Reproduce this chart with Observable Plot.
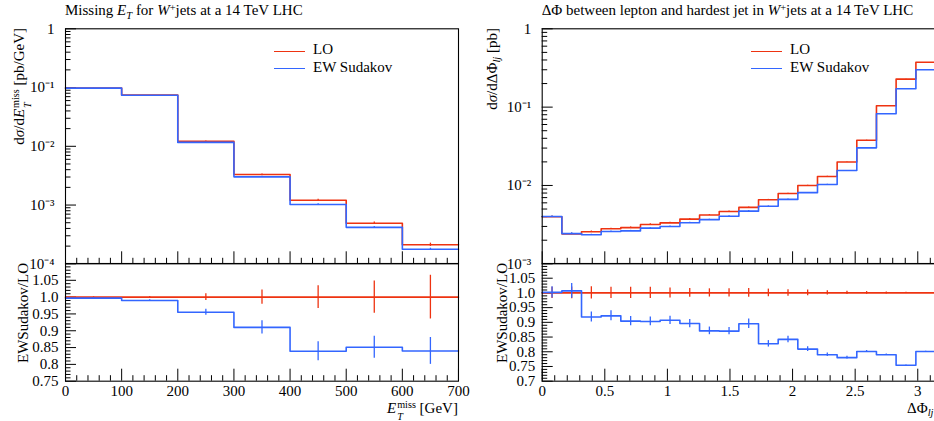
<!DOCTYPE html>
<html><head><meta charset="utf-8">
<script src="https://cdn.jsdelivr.net/npm/d3@7"></script>
<script src="https://cdn.jsdelivr.net/npm/@observablehq/plot@0.6"></script>
<style>
html,body{margin:0;padding:0;background:#fff;overflow:hidden;}
#root{position:relative;width:934px;height:421px;font-family:"Liberation Serif",serif;color:#000;overflow:hidden;}
#root svg{position:absolute;overflow:visible;}
.t{position:absolute;white-space:nowrap;font-size:15px;line-height:15px;}
.rot{position:absolute;white-space:nowrap;font-size:15px;line-height:15px;transform-origin:0 0;transform:rotate(-90deg) translateX(-100%);}
.sub{font-size:70%;position:relative;top:0.3em;}
.sup{font-size:70%;position:relative;top:-0.45em;}
.ss{display:inline-block;position:relative;font-size:68%;line-height:1;margin-left:1px;}
.ss .hi{display:block;position:relative;top:-0.45em;}
.ss .lo{display:block;position:absolute;left:0;top:0.92em;line-height:0.6;}
.leg{position:absolute;height:0;border-top:1.6px solid;width:31px;}
</style></head><body><div id="root"></div>
<script>
const FONT = '"Liberation Serif", serif';
const RED = "#ee3311", BLUE = "#3366ff";

// ---------- Missing E_T panel ----------
const etEdges = [0, 100, 200, 300, 400, 500, 600, 700];
const etLO    = [0.098, 0.0745, 0.0122, 0.00332, 0.00121, 0.00049, 0.000211];
const etEW    = [0.0977, 0.0738, 0.01165, 0.00302, 0.00102, 0.000417, 0.000177];
const etRatio = [0.997, 0.99, 0.955, 0.91, 0.839, 0.851, 0.84];
const etLOErr = [0.001, 0.002, 0.01, 0.021, 0.034, 0.048, 0.065];
const etEWErr = [0.001, 0.002, 0.009, 0.02, 0.028, 0.033, 0.04];
const etXTicks = [0, 100, 200, 300, 400, 500, 600, 700];

// ---------- Delta Phi panel ----------
const phiEdges = [0, 0.157, 0.314, 0.471, 0.628, 0.785, 0.942, 1.1, 1.257, 1.414, 1.571,
                  1.728, 1.885, 2.042, 2.199, 2.356, 2.513, 2.67, 2.827, 2.985, 3.1416];
const phiLO    = [0.00399, 0.00241, 0.00256, 0.0028, 0.0029, 0.00318, 0.00333, 0.00372, 0.0042, 0.00465,
                  0.00525, 0.00656, 0.00789, 0.0100, 0.0130, 0.0199, 0.0377, 0.104, 0.228, 0.374];
const phiEW    = [0.00401, 0.00243, 0.00235, 0.00258, 0.00263, 0.00285, 0.00299, 0.00334, 0.00366, 0.00405,
                  0.0047, 0.00543, 0.00664, 0.00809, 0.01027, 0.0155, 0.0302, 0.0822, 0.172, 0.3];
const phiRatio = [1.002, 1.007, 0.918, 0.922, 0.904, 0.903, 0.907, 0.896, 0.871, 0.87,
                  0.895, 0.827, 0.842, 0.809, 0.79, 0.78, 0.801, 0.79, 0.754, 0.801];
const phiLOErr = [0.019, 0.02, 0.021, 0.019, 0.019, 0.019, 0.017, 0.015, 0.014, 0.014,
                  0.015, 0.013, 0.011, 0.0097, 0.007, 0.0057, 0.0046, 0.0034, 0.0023, 0.001];
const phiEWErr = [0.019, 0.025, 0.017, 0.017, 0.016, 0.015, 0.014, 0.014, 0.013, 0.0125,
                  0.016, 0.011, 0.011, 0.008, 0.006, 0.0045, 0.0034, 0.0023, 0.0012, 0.001];
const phiXTicks = [0, 0.5, 1, 1.5, 2, 2.5, 3];

// ---------- helpers ----------
function steps(edges, vals) {
  const pts = vals.map((v, i) => ({x: edges[i], y: v}));
  pts.push({x: edges[edges.length - 1], y: vals[vals.length - 1]});
  return pts;
}
function bars(edges, vals, errs, rel) {
  return vals.map((v, i) => ({x: (edges[i] + edges[i + 1]) / 2,
    lo: rel ? v * (1 - errs[i]) : v - errs[i], hi: rel ? v * (1 + errs[i]) : v + errs[i]}));
}
function logTicks(lo, hi) {
  const major = [], minor = [];
  for (let e = lo; e <= hi; e++) {
    major.push(Math.pow(10, e));
    if (e < hi) for (let m = 2; m <= 9; m++) minor.push(m * Math.pow(10, e));
  }
  return {major, minor};
}
const supMap = {"-": "⁻", "0": "⁰", "1": "¹", "2": "²", "3": "³", "4": "⁴", "5": "⁵"};
function fmtPow(d) {
  const e = Math.round(Math.log10(d));
  if (e === 0) return "1";
  return "10" + String(e).split("").map(c => supMap[c]).join("");
}
function fmtRatio(d) {
  const r = Math.round(d * 100) / 100;
  return r === 1 ? "1.0" : String(r);
}
const fmtPlain = d => String(Math.round(d * 100) / 100);
const style = {background: "transparent", overflow: "visible", fontFamily: FONT, fontSize: "15px", color: "#000"};

function tickMarksY(major, minor) {
  return [
    Plot.axisY(minor, {anchor: "left", tickSize: 5.5, dx: 5.5, fill: "none", label: null, strokeWidth: 1}),
    Plot.axisY(major, {anchor: "left", tickSize: 11, dx: 11, fill: "none", label: null, strokeWidth: 1})
  ];
}
function tickMarksX(major, minor) {
  return [
    Plot.axisX(minor, {anchor: "bottom", tickSize: 5.5, dy: -5.5, fill: "none", label: null, strokeWidth: 1}),
    Plot.axisX(major, {anchor: "bottom", tickSize: 12, dy: -12, fill: "none", label: null, strokeWidth: 1})
  ];
}
function seriesMarks(edges, a, b, aErr, bErr, rel) {
  return [
    Plot.line(steps(edges, a), {x: "x", y: "y", curve: "step-after", stroke: RED, strokeWidth: 1.6}),
    Plot.ruleX(bars(edges, a, aErr, rel), {x: "x", y1: "lo", y2: "hi", stroke: RED, strokeWidth: 1.3}),
    Plot.line(steps(edges, b), {x: "x", y: "y", curve: "step-after", stroke: BLUE, strokeWidth: 1.6}),
    Plot.ruleX(bars(edges, b, bErr, rel), {x: "x", y1: "lo", y2: "hi", stroke: BLUE, strokeWidth: 1.3})
  ];
}

const root = document.getElementById("root");
function place(el, left, top) {
  el.style.left = left + "px"; el.style.top = top + "px";
  root.appendChild(el);
}

// ----- Left main -----
const etLog = logTicks(-4, 0);
const etMinorX = d3.range(0, 701, 20).filter(v => v % 100 !== 0);
place(Plot.plot({
  width: 470, height: 269.3, marginLeft: 65, marginRight: 12, marginTop: 28.3, marginBottom: 6,
  style,
  x: {domain: [0, 700]},
  y: {type: "log", domain: [1e-4, 1]},
  marks: [
    ...tickMarksY(etLog.major, etLog.minor),
    Plot.axisY(etLog.major, {anchor: "left", tickSize: 0, tickPadding: 11, tickFormat: fmtPow, label: null}),
    ...tickMarksX(etXTicks, etMinorX),
    ...seriesMarks(etEdges, etLO, etEW, etLOErr, etEWErr, true),
    Plot.frame({stroke: "#000", strokeWidth: 1.1})
  ]
}), 0, 0);

// ----- Left ratio -----
const etRMajor = d3.range(75, 106, 5).map(v => v / 100);
const etRMinor = d3.range(75, 110).filter(v => v % 5 !== 0).map(v => v / 100);
place(Plot.plot({
  width: 470, height: 129.7, marginLeft: 65, marginRight: 12, marginTop: 6, marginBottom: 6,
  style,
  x: {domain: [0, 700]},
  y: {domain: [0.75, 1.1]},
  marks: [
    ...tickMarksY(etRMajor, etRMinor),
    Plot.axisY(etRMajor, {anchor: "left", tickSize: 0, tickPadding: 7, tickFormat: fmtRatio, label: null}),
    ...tickMarksX(etXTicks, etMinorX),
    Plot.axisX(etXTicks, {anchor: "bottom", tickSize: 0, tickPadding: 4, tickFormat: fmtPlain, label: null}),
    ...seriesMarks(etEdges, etLO.map(() => 1), etRatio, etLOErr, etEWErr, false),
    Plot.frame({stroke: "#000", strokeWidth: 1.1})
  ]
}), 0, 257.3);

// ----- Right main -----
const phiLog = logTicks(-3, 0);
const phiMinorX = d3.range(1, 32).filter(v => v % 5 !== 0).map(v => v / 10);
place(Plot.plot({
  width: 476, height: 269.3, marginLeft: 77.7, marginRight: 5, marginTop: 28.3, marginBottom: 6,
  style,
  x: {domain: [0, Math.PI]},
  y: {type: "log", domain: [1e-3, 1]},
  marks: [
    ...tickMarksY(phiLog.major, phiLog.minor),
    Plot.axisY(phiLog.major, {anchor: "left", tickSize: 0, tickPadding: 11, tickFormat: fmtPow, label: null}),
    ...tickMarksX(phiXTicks, phiMinorX),
    ...seriesMarks(phiEdges, phiLO, phiEW, phiLOErr, phiEWErr, true),
    Plot.frame({stroke: "#000", strokeWidth: 1.1})
  ]
}), 464, 0);

// ----- Right ratio -----
const phiRMajor = d3.range(70, 106, 5).map(v => v / 100);
const phiRMinor = d3.range(70, 110).filter(v => v % 5 !== 0).map(v => v / 100);
place(Plot.plot({
  width: 476, height: 129.7, marginLeft: 77.7, marginRight: 5, marginTop: 6, marginBottom: 6,
  style,
  x: {domain: [0, Math.PI]},
  y: {domain: [0.7, 1.1]},
  marks: [
    ...tickMarksY(phiRMajor, phiRMinor),
    Plot.axisY(phiRMajor, {anchor: "left", tickSize: 0, tickPadding: 7, tickFormat: fmtRatio, label: null}),
    ...tickMarksX(phiXTicks, phiMinorX),
    Plot.axisX(phiXTicks, {anchor: "bottom", tickSize: 0, tickPadding: 4, tickFormat: fmtPlain, label: null}),
    ...seriesMarks(phiEdges, phiLO.map(() => 1), phiRatio, phiLOErr, phiEWErr, false),
    Plot.frame({stroke: "#000", strokeWidth: 1.1})
  ]
}), 464, 257.3);

// ----- Text: titles, axis labels, legends -----
function html(cls, left, top, inner) {
  const d = document.createElement("div");
  d.className = cls; d.style.left = left + "px"; d.style.top = top + "px"; d.innerHTML = inner;
  root.appendChild(d); return d;
}
const etSym = '<i>E</i><span class="ss"><span class="hi">miss</span><span class="lo"><i>T</i></span></span>';
html("t", 65, 3.4, 'Missing <i>E</i><span class="sub"><i>T</i></span> for <i>W</i><span class="sup">+</span>jets at a 14 TeV LHC');
html("t", 541.7, 3.4, 'ΔΦ between lepton and hardest jet in <i>W</i><span class="sup">+</span>jets at a 14 TeV LHC');

html("rot", 12.4, 28, 'd<i>σ</i>/d' + etSym + ' [pb/GeV]');
html("rot", 16.4, 263.3, 'EWSudakov/LO');
html("rot", 484.5, 28, 'd<i>σ</i>/dΔΦ<span class="sub"><i>lj</i></span> [pb]');
html("rot", 494.5, 263.3, 'EWSudakov/LO');

const xl = html("t", 0, 400.5, etSym + ' [GeV]');
xl.style.left = (458 - xl.offsetWidth) + "px";
html("t", 907, 401, 'ΔΦ<span class="sub"><i>lj</i></span>');

// legends
const legends = [
  {x: 274, tx: 313},
  {x: 750.7, tx: 790}
];
legends.forEach(l => {
  const a = html("leg", l.x, 51, ""); a.style.borderColor = RED;
  const b = html("leg", l.x, 68.3, ""); b.style.borderColor = BLUE;
  html("t", l.tx, 42.4, "LO");
  html("t", l.tx, 60.1, "EW Sudakov");
});
</script>
</body></html>
